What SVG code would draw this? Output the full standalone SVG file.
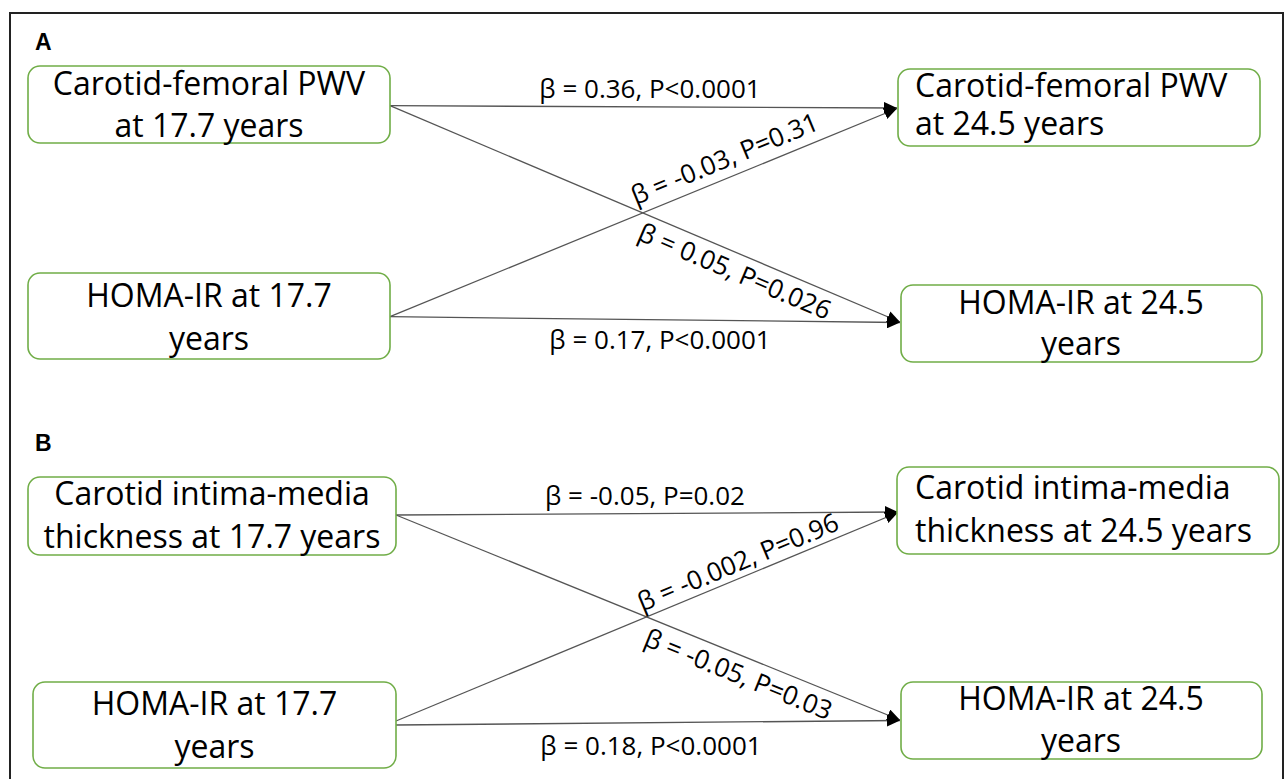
<svg xmlns="http://www.w3.org/2000/svg" width="1286" height="779" viewBox="0 0 1286 779">
<style>
  .frame { fill: none; stroke: #222; stroke-width: 2; }
  .box { fill: #fff; stroke: #70AD47; stroke-width: 1.6; }
  .nt { font-family: "Open Sans", "DejaVu Sans", sans-serif; font-size: 32px; fill: #000; }
  .mid { text-anchor: middle; }
  .lbl { font-family: "Open Sans", "DejaVu Sans", sans-serif; font-size: 26px; fill: #000; }
  .panel { font-family: "Liberation Sans", Arial, sans-serif; font-size: 23px; font-weight: bold; fill: #000; }
  .edge { fill: none; stroke: #555; stroke-width: 1.3; marker-end: url(#arr); }
</style>
<defs>
  <marker id="arr" markerUnits="userSpaceOnUse" markerWidth="14" markerHeight="12" refX="13" refY="6" orient="auto">
    <path d="M0,0 L13,6 L0,12 z" fill="#000"/>
  </marker>
</defs>
<rect width="1286" height="779" fill="#fff"/>
<rect class="frame" x="10" y="13" width="1273" height="790"/>
<text class="panel" x="35" y="50">A</text>
<text class="panel" x="35" y="451">B</text>

<g id="connectors">
  <line class="edge" x1="390" y1="105.7" x2="897" y2="108"/>
  <line class="edge" x1="390" y1="105.7" x2="900" y2="322"/>
  <line class="edge" x1="390" y1="316.7" x2="897" y2="108.5"/>
  <line class="edge" x1="390" y1="316.7" x2="900" y2="322.5"/>
  <text class="lbl mid" x="650" y="98">β = 0.36, P&lt;0.0001</text>
  <text class="lbl mid" x="660" y="349">β = 0.17, P&lt;0.0001</text>
  <g transform="translate(641,212.9) rotate(-22.47)"><text class="lbl" x="-2" y="-9">β = -0.03, P=0.31</text></g>
  <g transform="translate(641,212.9) rotate(23.1)"><text class="lbl" x="6" y="26">β = 0.05, P=0.026</text></g>

  <line class="edge" x1="396" y1="515" x2="898" y2="512"/>
  <line class="edge" x1="396" y1="515" x2="900" y2="720"/>
  <line class="edge" x1="396" y1="721" x2="898" y2="512.5"/>
  <line class="edge" x1="396" y1="725" x2="900" y2="720.5"/>
  <text class="lbl mid" x="645" y="505">β = -0.05, P=0.02</text>
  <text class="lbl mid" x="651" y="755">β = 0.18, P&lt;0.0001</text>
  <g transform="translate(646.5,616.5) rotate(-22.6)"><text class="lbl" x="-2" y="-6">β = -0.002, P=0.96</text></g>
  <g transform="translate(646.5,616.5) rotate(22.13)"><text class="lbl" x="7" y="28">β = -0.05, P=0.03</text></g>
</g>

<g id="a1">
  <rect class="box" x="28" y="66" width="362" height="77" rx="12"/>
  <text class="nt mid" x="209" y="95">Carotid-femoral PWV</text>
  <text class="nt mid" x="209" y="137">at 17.7 years</text>
</g>
<g id="a2">
  <rect class="box" x="898" y="69" width="362" height="77" rx="12"/>
  <text class="nt" x="915" y="97">Carotid-femoral PWV</text>
  <text class="nt" x="915" y="135">at 24.5 years</text>
</g>
<g id="a3">
  <rect class="box" x="28" y="273" width="362" height="86" rx="12"/>
  <text class="nt mid" x="209" y="307">HOMA-IR at 17.7</text>
  <text class="nt mid" x="209" y="350">years</text>
</g>
<g id="a4">
  <rect class="box" x="901" y="285" width="361" height="77" rx="12"/>
  <text class="nt mid" x="1081" y="314">HOMA-IR at 24.5</text>
  <text class="nt mid" x="1081" y="355">years</text>
</g>
<g id="b1">
  <rect class="box" x="28" y="477" width="368" height="78" rx="12"/>
  <text class="nt mid" x="212" y="505">Carotid intima-media</text>
  <text class="nt mid" x="212" y="548">thickness at 17.7 years</text>
</g>
<g id="b2">
  <rect class="box" x="897" y="467" width="382" height="87" rx="12"/>
  <text class="nt" x="915" y="499">Carotid intima-media</text>
  <text class="nt" x="915" y="542">thickness at 24.5 years</text>
</g>
<g id="b3">
  <rect class="box" x="33" y="682" width="363" height="86" rx="12"/>
  <text class="nt mid" x="214.5" y="715">HOMA-IR at 17.7</text>
  <text class="nt mid" x="214.5" y="758">years</text>
</g>
<g id="b4">
  <rect class="box" x="901" y="682" width="361" height="77" rx="12"/>
  <text class="nt mid" x="1081" y="710">HOMA-IR at 24.5</text>
  <text class="nt mid" x="1081" y="752">years</text>
</g>
</svg>
